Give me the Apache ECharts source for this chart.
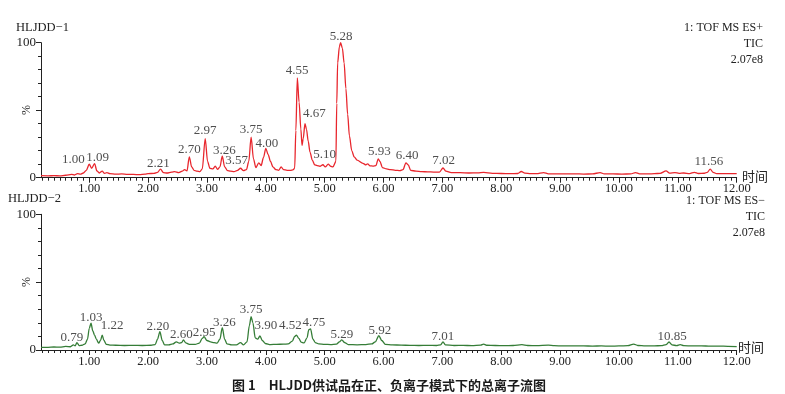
<!DOCTYPE html>
<html>
<head>
<meta charset="utf-8">
<script src="https://cdn.jsdelivr.net/npm/echarts@6/dist/echarts.min.js"></script>
<style>
html,body{margin:0;padding:0;background:#fff;}
#chart{width:785px;height:394px;}
</style>
</head>
<body>
<div id="chart"></div>
<script>
// ---------- DATA ----------
// Positive-ion TIC (HLJDD-1): retention time (min) and relative intensity (%)
var posTime = [0.18,0.3,0.4,0.5,0.6,0.7,0.75,0.8,0.85,0.9,0.95,1.00,1.04,1.09,1.13,1.17,1.22,1.26,1.3,1.35,1.45,1.55,1.65,1.75,1.85,1.95,2.0,2.1,2.16,2.21,2.26,2.32,2.4,2.45,2.52,2.58,2.62,2.66,2.70,2.74,2.78,2.83,2.88,2.92,2.97,3.01,3.05,3.1,3.14,3.18,3.22,3.26,3.3,3.35,3.4,3.46,3.52,3.57,3.62,3.67,3.71,3.75,3.79,3.83,3.88,3.92,3.96,4.00,4.04,4.08,4.12,4.17,4.22,4.26,4.3,4.36,4.42,4.46,4.49,4.51,4.535,4.565,4.595,4.615,4.635,4.665,4.69,4.72,4.75,4.79,4.83,4.87,4.92,4.97,5.01,5.06,5.1,5.14,5.19,5.205,5.22,5.25,5.27,5.30,5.33,5.36,5.39,5.42,5.46,5.5,5.55,5.65,5.7,5.73,5.77,5.82,5.87,5.91,5.94,5.98,6.05,6.12,6.2,6.28,6.33,6.38,6.42,6.46,6.55,6.65,6.75,6.85,6.95,7.01,7.06,7.15,7.3,7.45,7.6,7.7,7.85,8.0,8.15,8.28,8.34,8.4,8.5,8.6,8.72,8.8,8.95,9.1,9.25,9.4,9.55,9.68,9.75,9.9,10.05,10.2,10.28,10.35,10.5,10.6,10.7,10.8,10.86,10.95,11.02,11.1,11.2,11.28,11.35,11.45,11.5,11.55,11.6,11.66,11.8,11.9,12.0];
var posValue = [1.5,1.4,1.5,1.4,1.8,2.5,2.0,3.0,2.6,3.5,5.5,10,7,10.5,5,3.5,4.8,3.2,3.8,3.0,2.6,2.8,2.5,2.4,2.3,2.6,3.0,3.2,4.0,6.3,3.8,3.5,4.2,4.5,3.8,4.8,6.0,5.0,15.5,8.0,5.5,4.8,4.5,6.5,29,12,7,6.5,8.5,6.2,8,16,8,5.2,4.8,4.5,5.5,7,5.2,6,12,30,14,7.5,11,9,15,21.7,17,12,8,6,5.5,8,6,5.5,5.5,5.8,7,35,74,56,36,24,29,40,36,27,19,13,9.5,9,8.5,9.6,8.0,10,8.5,8,12,55,85,97,100,96,85,66,47,31,20,15.5,13,10.6,9.5,10.3,8.8,8.6,9.0,14,12,7.5,6.5,6.0,5.5,5.2,6,11,9.5,5.5,4.8,4.5,4.3,4.2,4.2,7.2,4.8,3.8,3.7,3.5,3.6,3.9,3.2,3.1,3.0,3.1,4.6,3.4,3.0,3.0,3.8,2.9,2.8,2.8,2.9,2.7,2.8,3.8,2.8,2.8,2.7,2.8,3.8,2.9,2.8,3.0,3.2,5,3.4,3.8,3.2,3.5,3.0,4.0,3.1,3.3,4.0,6.3,4.0,3.0,3.0,3.0,3.0];

// Negative-ion TIC (HLJDD-2)
var negTime = [0.18,0.3,0.4,0.5,0.6,0.68,0.73,0.76,0.79,0.83,0.88,0.93,0.97,1.0,1.03,1.06,1.09,1.12,1.16,1.19,1.22,1.25,1.29,1.35,1.45,1.6,1.75,1.9,2.05,2.12,2.16,2.20,2.24,2.28,2.35,2.42,2.48,2.53,2.57,2.60,2.64,2.7,2.8,2.87,2.92,2.95,3.0,3.06,3.12,3.17,3.22,3.26,3.3,3.34,3.42,3.5,3.57,3.62,3.68,3.72,3.75,3.78,3.82,3.86,3.90,3.94,3.99,4.08,4.18,4.3,4.38,4.45,4.49,4.52,4.56,4.6,4.65,4.7,4.73,4.76,4.8,4.84,4.9,5.0,5.1,5.2,5.25,5.29,5.34,5.4,5.55,5.7,5.8,5.86,5.92,5.97,6.03,6.15,6.3,6.45,6.6,6.75,6.9,6.97,7.01,7.05,7.2,7.35,7.5,7.65,7.7,7.75,7.9,8.05,8.2,8.35,8.45,8.6,8.8,8.9,9.05,9.2,9.4,9.55,9.7,9.85,10.0,10.15,10.25,10.32,10.45,10.6,10.72,10.8,10.85,10.9,10.98,11.04,11.1,11.25,11.4,11.55,11.7,11.85,12.0];
var negValue = [2.0,2.0,2.2,2.1,2.6,2.4,3.8,3.0,5.4,3.2,3.5,4.5,8,16,19.7,14,11,8,5,7,11,7,4.2,3.6,3.5,3.3,3.4,3.3,3.5,4,8,13.5,7,3.8,3.8,4.5,6,5,5.5,7.4,5.2,4.2,4.2,5,8.5,9.8,7,6,5.4,5,8,16.5,8,4.5,3.8,3.8,5.4,3.8,6,18,24.6,20,9,8,10.3,7,4.8,4.0,4.2,4.3,4.5,6.5,10,11,8.5,5.8,5.2,9,15,15.5,8,5.5,4.5,4.2,4.0,4.3,6,7.4,5.5,4.0,3.8,4.0,4.5,6,10.5,7,4.2,3.8,3.6,3.4,3.3,3.4,3.3,3.8,6,3.8,3.3,3.4,3.2,3.6,4.4,3.5,3.3,3.2,3.3,3.9,3.3,3.2,3.6,3.2,3.0,3.1,3.0,2.9,3.0,2.8,3.0,3.2,4.4,3.3,3.0,3.1,3.2,4.0,5.9,3.8,3.2,4.0,3.2,3.0,3.1,2.8,2.9,2.7,2.5];

// Peak annotations
var posPeakTimes  = [1.00,1.09,2.21,2.70,2.97,3.26,3.57,3.75,4.00,4.55,4.67,5.10,5.28,5.93,6.40,7.02,11.56];
var posPeakHeights= [10,10.5,6.3,15.5,29,16,7,30,21.7,74,40,8.5,99.5,14,11,7.2,6.3];
var posPeakLabels = ['1.00','1.09','2.21','2.70','2.97','3.26','3.57','3.75','4.00','4.55','4.67','5.10','5.28','5.93','6.40','7.02','11.56'];

var negPeakTimes  = [0.79,1.03,1.22,2.20,2.60,2.95,3.26,3.75,3.90,4.52,4.75,5.29,5.92,7.01,10.85];
var negPeakHeights= [5.4,19.7,11,13.5,7.4,9.8,16.5,24.6,10.3,11,16,7.4,10.5,6,5.9];
var negPeakLabels = ['0.79','1.03','1.22','2.20','2.60','2.95','3.26','3.75','3.90','4.52','4.75','5.29','5.92','7.01','10.85'];

// Axis ticks
var xMajorTicks = [1,2,3,4,5,6,7,8,9,10,11,12];
var yLabelTicks = [0,100];

// ---------- STYLE / LAYOUT ----------
var posLabelShift = {'1.00':[-16,3],'1.09':[3,2],'2.21':[-2,2],'3.26':[2,2],'3.57':[-4,0],'4.00':[1,3],'4.55':[-1,0],'4.67':[9,-3],'5.10':[-6,-4],'5.28':[0,1],'11.56':[-2,0]};
var negLabelShift = {'0.79':[-5,0],'1.22':[10,-4],'2.20':[-2,0],'2.60':[-2,0],'2.95':[0,1.5],'3.26':[2,0],'3.75':[0,-2],'3.90':[6,-5],'4.52':[-6,-4],'4.75':[4,0],'5.92':[1,0],'10.85':[3,0]};

var SERIF = '"Liberation Serif","DejaVu Serif",serif';
var TXT = '#222';
var RED = '#e8262d';
var GREEN = '#357d37';
var X_MIN = 0.18, X_MAX = 12;

var xMinorTicks = [];
for (var k = 2; k <= 120; k++) xMinorTicks.push(k / 10);

function zip(a, b) { return a.map(function (t, i) { return [t, b[i]]; }); }

function peakData(times, heights, labels, shift) {
  return times.map(function (t, i) {
    var s = shift[labels[i]] || [0, 0];
    return { value: [t, heights[i]], name: labels[i], label: { offset: s } };
  });
}

function minorX(grid) {
  return {
    type: 'value', gridIndex: grid, min: X_MIN, max: X_MAX, position: 'bottom',
    splitLine: { show: false },
    axisLine: { show: true, onZero: false, lineStyle: { color: TXT, width: 1 } },
    axisTick: { show: true, length: 3, customValues: xMinorTicks, lineStyle: { color: TXT } },
    axisLabel: { show: false }
  };
}
function majorX(grid) {
  return {
    type: 'value', gridIndex: grid, min: X_MIN, max: X_MAX, position: 'bottom',
    splitLine: { show: false },
    axisLine: { show: false, onZero: false },
    axisTick: { show: true, length: 5, customValues: xMajorTicks, lineStyle: { color: TXT } },
    axisLabel: { show: true, customValues: xMajorTicks, margin: 5,
      formatter: function (v) { return v.toFixed(2); },
      fontFamily: SERIF, fontSize: 12.5, color: TXT }
  };
}
function minorY(grid) {
  return {
    type: 'value', gridIndex: grid, min: 0, max: 100, interval: 10,
    splitLine: { show: false },
    axisLine: { show: true, lineStyle: { color: TXT, width: 1 } },
    axisTick: { show: true, length: 3, lineStyle: { color: TXT } },
    axisLabel: { show: false }
  };
}
function majorY(grid) {
  return {
    type: 'value', gridIndex: grid, min: 0, max: 100, position: 'left',
    splitLine: { show: false },
    axisLine: { show: false },
    axisTick: { show: true, length: 5, customValues: [0, 50, 100], lineStyle: { color: TXT } },
    axisLabel: { show: true, customValues: yLabelTicks, margin: 5,
      fontFamily: SERIF, fontSize: 13, color: TXT }
  };
}

function labelSeries(xi, yi, data, dist) {
  return {
    type: 'scatter', xAxisIndex: xi, yAxisIndex: yi, symbolSize: 0, silent: true,
    data: data, z: 5,
    label: { show: true, position: 'top', distance: dist,
      formatter: function (p) { return p.name; },
      fontFamily: SERIF, fontSize: 13, color: TXT }
  };
}

var chart = echarts.init(document.getElementById('chart'), null, { renderer: 'canvas' });
chart.setOption({
  animation: false,
  backgroundColor: '#fff',
  grid: [
    { left: 41, right: 48.3, top: 42.7, height: 135 },
    { left: 41, right: 48.3, top: 214.3, height: 135.7 }
  ],
  xAxis: [minorX(0), majorX(0), minorX(1), majorX(1)],
  yAxis: [minorY(0), majorY(0), minorY(1), majorY(1)],
  series: [
    { type: 'line', xAxisIndex: 0, yAxisIndex: 0, data: zip(posTime, posValue),
      showSymbol: false, smooth: 0.3, smoothMonotone: 'x', silent: true,
      lineStyle: { color: RED, width: 1.3 } },
    { type: 'line', xAxisIndex: 2, yAxisIndex: 2, data: zip(negTime, negValue),
      showSymbol: false, smooth: 0.3, smoothMonotone: 'x', silent: true,
      lineStyle: { color: GREEN, width: 1.3 } },
    labelSeries(0, 0, peakData(posPeakTimes, posPeakHeights, posPeakLabels, posLabelShift), 1),
    labelSeries(2, 2, peakData(negPeakTimes, negPeakHeights, negPeakLabels, negLabelShift), -1)
  ],
  graphic: [
    { type: 'text', left: 16, top: 21, style: { text: 'HLJDD\u22121', font: '12.5px ' + SERIF, fill: TXT } },
    { type: 'text', left: 8, top: 192, style: { text: 'HLJDD\u22122', font: '12.5px ' + SERIF, fill: TXT } },
    { type: 'text', x: 763, y: 28, style: { text: '1: TOF MS ES+', font: '12px ' + SERIF, fill: TXT, align: 'right', verticalAlign: 'middle' } },
    { type: 'text', x: 763, y: 43.5, style: { text: 'TIC', font: '12px ' + SERIF, fill: TXT, align: 'right', verticalAlign: 'middle' } },
    { type: 'text', x: 763, y: 60, style: { text: '2.07e8', font: '12px ' + SERIF, fill: TXT, align: 'right', verticalAlign: 'middle' } },
    { type: 'text', x: 765, y: 201, style: { text: '1: TOF MS ES\u2212', font: '12px ' + SERIF, fill: TXT, align: 'right', verticalAlign: 'middle' } },
    { type: 'text', x: 765, y: 216.5, style: { text: 'TIC', font: '12px ' + SERIF, fill: TXT, align: 'right', verticalAlign: 'middle' } },
    { type: 'text', x: 765, y: 233, style: { text: '2.07e8', font: '12px ' + SERIF, fill: TXT, align: 'right', verticalAlign: 'middle' } },
    { type: 'text', x: 27, y: 110, rotation: Math.PI / 2, style: { text: '%', font: '12px ' + SERIF, fill: TXT, align: 'center', verticalAlign: 'middle' } },
    { type: 'text', x: 27, y: 282, rotation: Math.PI / 2, style: { text: '%', font: '12px ' + SERIF, fill: TXT, align: 'center', verticalAlign: 'middle' } },
    { type: 'text', x: 742, y: 176, style: { text: '时间', font: '13px "Noto Sans CJK SC"', fill: TXT, verticalAlign: 'middle' } },
    { type: 'text', x: 738, y: 347.5, style: { text: '时间', font: '13px "Noto Sans CJK SC"', fill: TXT, verticalAlign: 'middle' } },
    { type: 'text', x: 389, y: 385, style: { text: '图 1\u3000HLJDD供试品在正、负离子模式下的总离子流图', font: 'bold 13px "Noto Sans CJK SC"', fill: '#1a1a1a', align: 'center', verticalAlign: 'middle' } }
  ]
});
</script>
</body>
</html>
